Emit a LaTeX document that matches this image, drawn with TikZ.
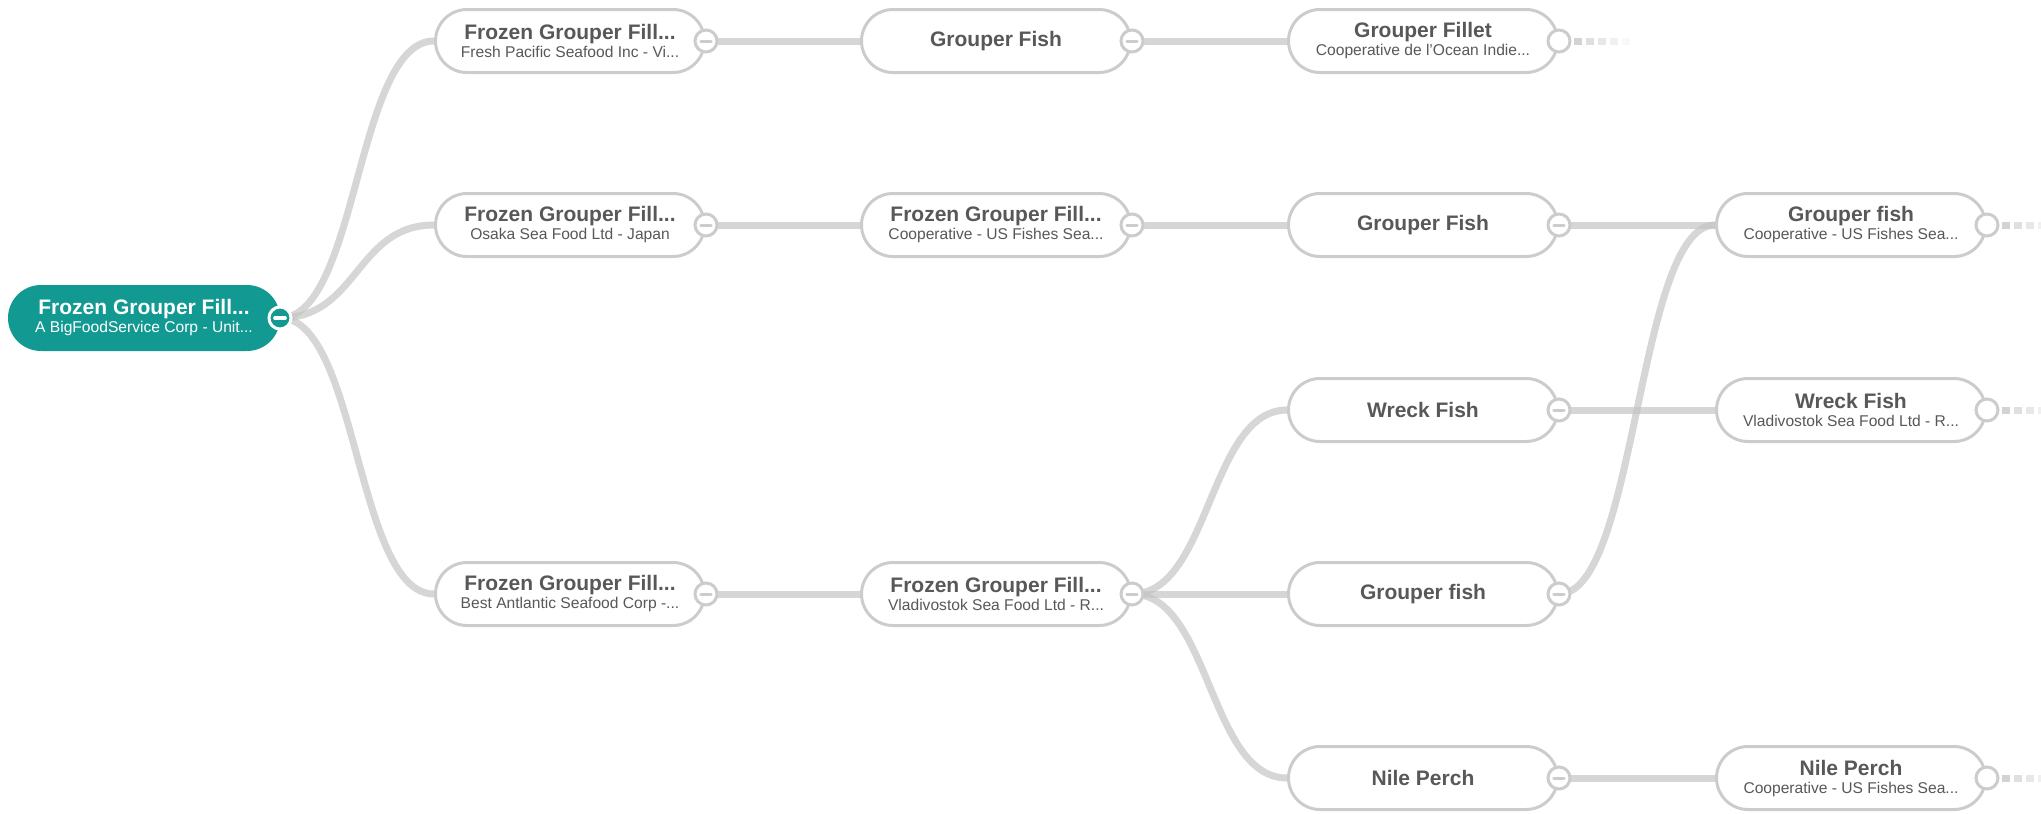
\documentclass[tikz,border=0pt]{standalone}
\usepackage{fontspec}
\setmainfont{Liberation Sans}
\usetikzlibrary{shapes.misc, backgrounds}

\definecolor{teal0}{RGB}{17,153,146}
\definecolor{rim}{RGB}{204,204,204}
\definecolor{wire}{RGB}{196,196,196}
\definecolor{ink}{RGB}{88,88,88}

\newcommand{\ttl}[1]{{\fontsize{10.5}{9}\selectfont\bfseries #1}}

\begin{document}
\begin{tikzpicture}[
    x=0.5pt, y=-0.5pt,
    card/.style={rounded rectangle, draw=rim, line width=1.5pt, fill=white,
        minimum width=134.5pt, minimum height=31.5pt, inner sep=0pt,
        align=center, text=ink, font=\fontsize{7.8}{9}\selectfont},
    rootcard/.style={card, fill=teal0, draw=teal0, text=white},
    knob/.style={circle, draw=rim, line width=1.5pt, fill=white,
        minimum size=11pt, inner sep=0pt},
    open/.style={knob, path picture={\draw[rim, line width=1.5pt, line cap=round]
        (-2.6pt,0) -- (2.6pt,0);}},
    rootknob/.style={knob, fill=teal0, draw=white, path picture={\draw[white,
        line width=1.6pt, line cap=round] (-2.6pt,0) -- (2.6pt,0);}},
    link/.style={draw=wire, line width=3.5pt, opacity=0.7}
]
\useasboundingbox (0,0) rectangle (2041,814);

% Root node
\node[rootcard] (n1) at (144,318) {\ttl{Frozen Grouper Fill...}\\A BigFoodService Corp - Unit...};

% Second column
\node[card] (n2a) at (570,41) {\ttl{Frozen Grouper Fill...}\\Fresh Pacific Seafood Inc - Vi...};
\node[card] (n2b) at (570,225) {\ttl{Frozen Grouper Fill...}\\Osaka Sea Food Ltd - Japan};
\node[card] (n2d) at (570,594) {\ttl{Frozen Grouper Fill...}\\Best Antlantic Seafood Corp -...};

% Third column
\node[card] (n3a) at (996,41) {\ttl{Grouper Fish}};
\node[card] (n3b) at (996,225) {\ttl{Frozen Grouper Fill...}\\Cooperative - US Fishes Sea...};
\node[card] (n3d) at (996,594) {\ttl{Frozen Grouper Fill...}\\Vladivostok Sea Food Ltd - R...};

% Fourth column
\node[card] (n4a) at (1423,41) {\ttl{Grouper Fillet}\\Cooperative de l'Ocean Indie...};
\node[card] (n4b) at (1423,225) {\ttl{Grouper Fish}};
\node[card] (n4c) at (1423,410) {\ttl{Wreck Fish}};
\node[card] (n4d) at (1423,594) {\ttl{Grouper fish}};
\node[card] (n4e) at (1423,778) {\ttl{Nile Perch}};

% Fifth column
\node[card] (n5b) at (1851,225) {\ttl{Grouper fish}\\Cooperative - US Fishes Sea...};
\node[card] (n5c) at (1851,410) {\ttl{Wreck Fish}\\Vladivostok Sea Food Ltd - R...};
\node[card] (n5e) at (1851,778) {\ttl{Nile Perch}\\Cooperative - US Fishes Sea...};

% Expand / collapse knobs
\node[rootknob] (k1) at (n1.east) {};
\foreach \n in {2a,2b,2d,3a,3b,3d,4b,4c,4d,4e}
    \node[open] (k\n) at (n\n.east) {};
\foreach \n in {4a,5b,5c,5e}
    \node[knob] (k\n) at (n\n.east) {};

% Fading tails of collapsed nodes
\foreach \n in {4a,5b,5c,5e}
    \foreach \i/\op in {0/0.75,1/0.55,2/0.4,3/0.25,4/0.12}
        \fill[wire, opacity=\op] (k\n.center) ++(15+12*\i,-3.5) rectangle ++(8,7);

% Links
\begin{pgfonlayer}{background}
\draw[link] (k1.center) .. controls +(78,0) and +(-78,0) .. (n2a.west);
\draw[link] (k1.center) .. controls +(78,0) and +(-78,0) .. (n2b.west);
\draw[link] (k1.center) .. controls +(78,0) and +(-78,0) .. (n2d.west);
\draw[link] (k2a.center) -- (n3a.west);
\draw[link] (k2b.center) -- (n3b.west);
\draw[link] (k2d.center) -- (n3d.west);
\draw[link] (k3a.center) -- (n4a.west);
\draw[link] (k3b.center) -- (n4b.west);
\draw[link] (k3d.center) .. controls +(78,0) and +(-78,0) .. (n4c.west);
\draw[link] (k3d.center) -- (n4d.west);
\draw[link] (k3d.center) .. controls +(78,0) and +(-78,0) .. (n4e.west);
\draw[link] (k4b.center) -- (n5b.west);
\draw[link] (k4c.center) -- (n5c.west);
\draw[link] (k4d.center) .. controls +(78,0) and +(-78,0) .. (n5b.west);
\draw[link] (k4e.center) -- (n5e.west);
\end{pgfonlayer}
\end{tikzpicture}
\end{document}
